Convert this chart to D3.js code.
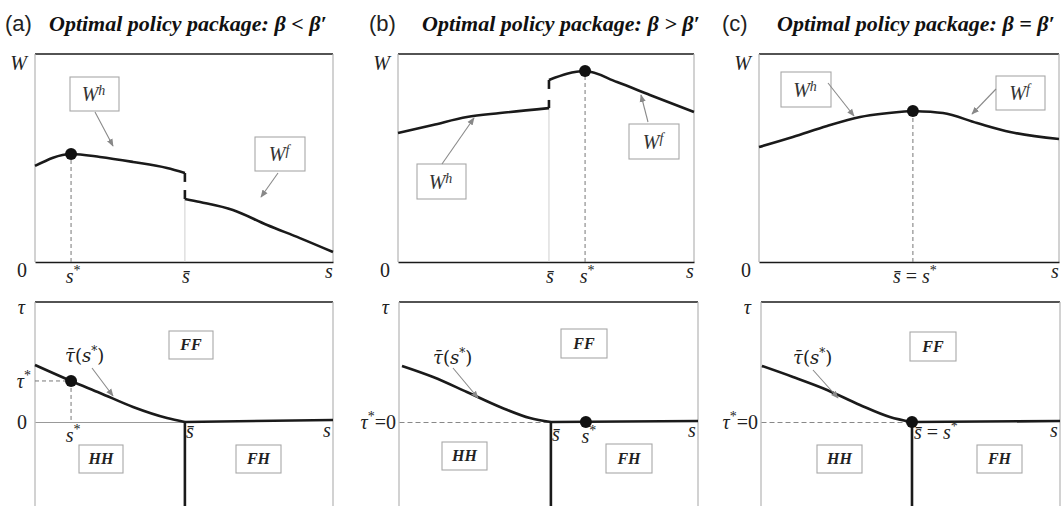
<!DOCTYPE html>
<html><head><meta charset="utf-8">
<script src="https://cdn.jsdelivr.net/npm/d3@7"></script>
<style>
body{margin:0;background:#fff;}
svg{display:block;}
svg text{font-family:"Liberation Serif",serif;}
svg text.math{font-style:italic;}
svg text.sans{font-family:"Liberation Sans",sans-serif;}
svg text.cm{font-family:"DejaVu Serif",serif;}
</style></head><body>
<svg id="c" width="1064" height="506"></svg>
<script>
// ---------------- data (normalised: s in [0,1], W in [0,1], tau in units) --------------
const panelLetters = ["(a)", "(b)", "(c)"];
const panelTitles = ["Optimal policy package: \u03B2 < \u03B2\u2032", "Optimal policy package: \u03B2 > \u03B2\u2032", "Optimal policy package: \u03B2 = \u03B2\u2032"];

// top row: welfare curves [s, W]
const A_Wh = [[0,0.462],[0.121,0.519],[0.218,0.505],[0.329,0.481],[0.443,0.452],[0.503,0.428]];
const A_Wf = [[0.503,0.303],[0.554,0.288],[0.664,0.25],[0.779,0.178],[0.889,0.115],[1,0.048]];
const B_Wh = [[0,0.62],[0.118,0.659],[0.233,0.697],[0.345,0.716],[0.51,0.74]];
const B_Wf = [[0.51,0.875],[0.632,0.918],[0.74,0.865],[0.851,0.803],[1,0.721]];
const C_Wh = [[0,0.553],[0.113,0.601],[0.227,0.654],[0.337,0.697],[0.513,0.726]];
const C_Wf = [[0.513,0.726],[0.613,0.716],[0.727,0.668],[0.837,0.625],[1,0.591]];
const sStarTop = [0.121, 0.632, 0.513];
const sBarTop  = [0.503, 0.51, 0.513];
const wStar    = [0.519, 0.918, 0.726];
// discontinuity marks at s-bar: [lower segment, upper segment] in W
const jumpA = [[0.303,0.346],[0.385,0.428]];
const jumpB = [[0.74,0.779],[0.832,0.875]];

// bottom row: tau-bar(s*) boundary [s, tau]
const A_tau = [[0,0.475],[0.121,0.342],[0.218,0.242],[0.329,0.125],[0.443,0.033],[0.503,0]];
const B_tau = [[0.01,0.467],[0.114,0.375],[0.227,0.25],[0.338,0.125],[0.438,0.033],[0.508,0]];
const C_tau = [[0.003,0.467],[0.107,0.375],[0.221,0.267],[0.331,0.142],[0.431,0.042],[0.505,0]];
const sBarBot  = [0.503, 0.508, 0.505];
const sStarBot = [0.121, 0.625, 0.505];
const tauStar  = [0.342, 0, 0];
const fhEndTau = [0.017, 0.008, 0.008];
const tauBottom = -0.7;

// ---------------- layout -----------------
const svg = d3.select("#c");
const topX = [[35,333],[398,694],[759,1059]];
const botX = [[35,333],[399,698],[761,1060]];
const topY = [262,54];
const botY0 = 422, botY1 = 302;
const titleX = [[5,49],[369,422],[722,777]];

const topBoxes = [
  [{x:70,y:77,w:49,h:34,lab:"h",ar:[95,112,113,146]},{x:255,y:137,w:50,h:34,lab:"f",ar:[278,173,261,197]}],
  [{x:417,y:164,w:49,h:35,lab:"h",ar:[442,164,474,118]},{x:629,y:124,w:50,h:35,lab:"f",ar:[648,122,641,95]}],
  [{x:781,y:72,w:50,h:35,lab:"h",ar:[828,83,854,116]},{x:996,y:76,w:49,h:34,lab:"f",ar:[996,89,972,114]}]
];
const botBoxes = [
  [{x:169,y:331,w:44,h:28,t:"FF"},{x:79,y:445,w:44,h:28,t:"HH"},{x:236,y:445,w:45,h:28,t:"FH"}],
  [{x:561,y:329,w:46,h:29,t:"FF"},{x:442,y:442,w:45,h:28,t:"HH"},{x:606,y:444,w:46,h:29,t:"FH"}],
  [{x:910,y:332,w:46,h:29,t:"FF"},{x:817,y:445,w:45,h:28,t:"HH"},{x:977,y:445,w:45,h:28,t:"FH"}]
];
const tauLab = [{x:65,y:362,ar:[92,368,113,396]},{x:433,y:364,ar:[453,368,478,398]},{x:793,y:364,ar:[813,370,838,398]}];

const defs = svg.append("defs");
defs.append("marker").attr("id","ah").attr("viewBox","0 0 10 10").attr("refX",9).attr("refY",5)
  .attr("markerWidth",7).attr("markerHeight",7).attr("orient","auto")
  .append("path").attr("d","M0,1 L10,5 L0,9 Z").attr("fill","#888");

const line = (x,y)=>d3.line().x(d=>x(d[0])).y(d=>y(d[1])).curve(d3.curveMonotoneX);
const DARK = "#1a1a1a", GRAY="#b4b4b4";

function arrow(g,a){
  g.append("line").attr("x1",a[0]).attr("y1",a[1]).attr("x2",a[2]).attr("y2",a[3])
   .attr("stroke","#8a8a8a").attr("stroke-width",1.1).attr("marker-end","url(#ah)");
}
function star(t){ t.append("tspan").attr("dy",-8).attr("font-size",14).style("font-style","normal").text("*"); }
function sLabel(g,x,y,kind,anchor){
  const t = g.append("text").attr("class","math").attr("x",x).attr("y",y)
    .attr("font-size",20).attr("text-anchor",anchor||"middle").attr("fill","#222");
  if(kind==="star"){ t.append("tspan").text("s"); star(t); }
  else if(kind==="bar"){ t.text("s\u0304"); }
  else if(kind==="bareq"){ t.append("tspan").text("s\u0304"); t.append("tspan").style("font-style","normal").text(" = "); t.append("tspan").text("s"); star(t); }
  else { t.text("s"); }
  return t;
}

// ---------------- titles -----------------
panelLetters.forEach((L,i)=>{
  svg.append("text").attr("class","sans").attr("x",titleX[i][0]).attr("y",31)
    .attr("font-size",22).attr("fill","#222").text(L);
  svg.append("text").attr("x",titleX[i][1]).attr("y",31)
    .attr("font-size",22).style("font-weight","bold").style("font-style","italic").attr("fill","#111").text(panelTitles[i]);
});

// ---------------- top row -----------------
const topWh=[A_Wh,B_Wh,C_Wh], topWf=[A_Wf,B_Wf,C_Wf], jumps=[jumpA,jumpB,null];
[0,1,2].forEach(i=>{
  const x = d3.scaleLinear().domain([0,1]).range(topX[i]);
  const y = d3.scaleLinear().domain([0,1]).range(topY);
  const g = svg.append("g");
  g.append("line").attr("x1",x(0)).attr("x2",x(1)).attr("y1",y(1)).attr("y2",y(1)).attr("stroke",DARK).attr("stroke-width",1.3);
  g.append("line").attr("x1",x(0)).attr("x2",x(0)).attr("y1",y(1)).attr("y2",y(0)).attr("stroke",GRAY).attr("stroke-width",1.2);
  g.append("line").attr("x1",x(1)).attr("x2",x(1)).attr("y1",y(1)).attr("y2",y(0)).attr("stroke",GRAY).attr("stroke-width",1.2);
  const ax = g.append("g").attr("transform",`translate(0,${y(0)})`)
    .call(d3.axisBottom(x).tickValues([]).tickSizeOuter(0));
  ax.select(".domain").attr("stroke",DARK).attr("stroke-width",1.5);
  if(i<2){
    const wlow = i===0 ? A_Wf[0][1] : B_Wh[B_Wh.length-1][1];
    g.append("line").attr("x1",x(sBarTop[i])).attr("x2",x(sBarTop[i])).attr("y1",y(0)).attr("y2",y(wlow))
      .attr("stroke","#cfcfcf").attr("stroke-width",1);
  }
  g.append("line").attr("x1",x(sStarTop[i])).attr("x2",x(sStarTop[i])).attr("y1",y(0)).attr("y2",y(wStar[i]))
    .attr("stroke","#777").attr("stroke-width",1).attr("stroke-dasharray","4,3");
  [topWh[i],topWf[i]].forEach(d=>{
    g.append("path").attr("d",line(x,y)(d)).attr("fill","none").attr("stroke",DARK).attr("stroke-width",2.6);
  });
  if(jumps[i]) jumps[i].forEach(seg=>{
    g.append("line").attr("x1",x(sBarTop[i])).attr("x2",x(sBarTop[i])).attr("y1",y(seg[0])).attr("y2",y(seg[1]))
      .attr("stroke",DARK).attr("stroke-width",2.6);
  });
  g.append("circle").attr("cx",x(sStarTop[i])).attr("cy",y(wStar[i])).attr("r",6).attr("fill","#111");
  g.append("text").attr("class","math").attr("x",x(0)-8).attr("y",y(1)+16).attr("text-anchor","end").attr("font-size",20).attr("fill","#222").text("W");
  g.append("text").attr("x",x(0)-8).attr("y",y(0)+15).attr("text-anchor","end").attr("font-size",20).attr("fill","#222").text("0");
  if(i===2){ sLabel(g,x(sBarTop[i])+2,y(0)+21,"bareq"); }
  else { sLabel(g,x(sStarTop[i])+2,y(0)+21,"star"); sLabel(g,x(sBarTop[i])+1,y(0)+21,"bar"); }
  sLabel(g,x(1)-4,y(0)+16,"s");
  topBoxes[i].forEach(b=>{
    const bg = g.append("g");
    bg.append("rect").attr("x",b.x).attr("y",b.y).attr("width",b.w).attr("height",b.h).attr("fill","#fff").attr("stroke","#a8a8a8").attr("stroke-width",1.1);
    const t = bg.append("text").attr("class","math").attr("x",b.x+b.w/2-1).attr("y",b.y+b.h/2+7).attr("text-anchor","middle")
      .attr("font-size",20).attr("fill","#333");
    t.append("tspan").text("W");
    t.append("tspan").attr("dy",-6).attr("font-size",14).text(b.lab);
    arrow(g,b.ar);
  });
});

// ---------------- bottom row -----------------
const botTau=[A_tau,B_tau,C_tau];
[0,1,2].forEach(i=>{
  const x = d3.scaleLinear().domain([0,1]).range(botX[i]);
  const y = d3.scaleLinear().domain([0,1]).range([botY0,botY1]);
  const g = svg.append("g");
  g.append("line").attr("x1",x(0)).attr("x2",x(1)).attr("y1",y(1)).attr("y2",y(1)).attr("stroke",DARK).attr("stroke-width",1.3);
  g.append("line").attr("x1",x(0)).attr("x2",x(0)).attr("y1",y(1)).attr("y2",y(tauBottom)).attr("stroke",GRAY).attr("stroke-width",1.2);
  g.append("line").attr("x1",x(1)).attr("x2",x(1)).attr("y1",y(1)).attr("y2",y(tauBottom)).attr("stroke",GRAY).attr("stroke-width",1.2);
  const zx = d3.scaleLinear().domain([0,sBarBot[i]]).range([x(0),x(sBarBot[i])]);
  const ax = g.append("g").attr("transform",`translate(0,${y(0)})`).call(d3.axisBottom(zx).tickValues([]).tickSizeOuter(0));
  ax.select(".domain").attr("stroke", i===0?"#999":"#888").attr("stroke-width",1).attr("stroke-dasharray", i===0?null:"5,3");
  if(i===0){
    g.append("line").attr("x1",x(0)).attr("x2",x(sStarBot[0])).attr("y1",y(tauStar[0])).attr("y2",y(tauStar[0]))
      .attr("stroke","#777").attr("stroke-dasharray","4,3");
    g.append("line").attr("x1",x(sStarBot[0])).attr("x2",x(sStarBot[0])).attr("y1",y(tauStar[0])).attr("y2",y(0))
      .attr("stroke","#777").attr("stroke-dasharray","4,3");
  }
  g.append("path").attr("d",line(x,y)(botTau[i])).attr("fill","none").attr("stroke",DARK).attr("stroke-width",2.6);
  g.append("line").attr("x1",x(sBarBot[i])).attr("x2",x(1)).attr("y1",y(0)).attr("y2",y(fhEndTau[i])).attr("stroke",DARK).attr("stroke-width",2.6);
  g.append("line").attr("x1",x(sBarBot[i])).attr("x2",x(sBarBot[i])).attr("y1",y(0)).attr("y2",y(tauBottom)).attr("stroke",DARK).attr("stroke-width",2.6);
  g.append("circle").attr("cx",x(sStarBot[i])).attr("cy",y(tauStar[i])).attr("r",6).attr("fill","#111");
  g.append("text").attr("class","math").attr("x",x(0)-10).attr("y",y(1)+12).attr("text-anchor","end").attr("font-size",20).attr("fill","#222").text("\u03C4");
  if(i===0){
    const t=g.append("text").attr("class","math").attr("x",x(0)-4).attr("y",y(tauStar[0])+7).attr("text-anchor","end").attr("font-size",20).attr("fill","#222");
    t.append("tspan").text("\u03C4"); star(t);
    g.append("text").attr("x",x(0)-8).attr("y",y(0)+7).attr("text-anchor","end").attr("font-size",20).attr("fill","#222").text("0");
    sLabel(g,x(sStarBot[0])+2,y(0)+20,"star");
    sLabel(g,x(sBarBot[0])+5,y(0)+16,"bar");
  } else {
    const t=g.append("text").attr("class","math").attr("x",x(0)-3).attr("y",y(0)+7).attr("text-anchor","end").attr("font-size",20).attr("fill","#222");
    t.append("tspan").text("\u03C4"); star(t);
    t.append("tspan").attr("dy",8).style("font-style","normal").text("=0");
    if(i===1){ sLabel(g,x(sBarBot[1])+5,y(0)+19,"bar"); sLabel(g,x(sStarBot[1])+3,y(0)+21,"star"); }
    else { sLabel(g,x(sBarBot[2])+2,y(0)+17,"bareq","start"); }
  }
  sLabel(g,x(1)-6,y(0)+15,"s");
  const tl = tauLab[i];
  const tt = g.append("text").attr("class","cm").attr("x",tl.x).attr("y",tl.y).attr("font-size",18).attr("fill","#222");
  tt.append("tspan").style("font-style","italic").text("\u03C4\u0304");
  tt.append("tspan").text("(");
  tt.append("tspan").style("font-style","italic").text("s");
  tt.append("tspan").attr("dy",-7).attr("font-size",12).text("*");
  tt.append("tspan").attr("dy",7).text(")");
  arrow(g,tl.ar);
  botBoxes[i].forEach(b=>{
    const bg = g.append("g");
    bg.append("rect").attr("x",b.x).attr("y",b.y).attr("width",b.w).attr("height",b.h).attr("fill","#fff").attr("stroke","#a8a8a8").attr("stroke-width",1.1);
    bg.append("text").attr("x",b.x+b.w/2).attr("y",b.y+b.h/2+5).attr("text-anchor","middle")
      .attr("font-size",16).style("font-weight","bold").style("font-style","italic").attr("fill","#222").text(b.t);
  });
});
</script></body></html>
